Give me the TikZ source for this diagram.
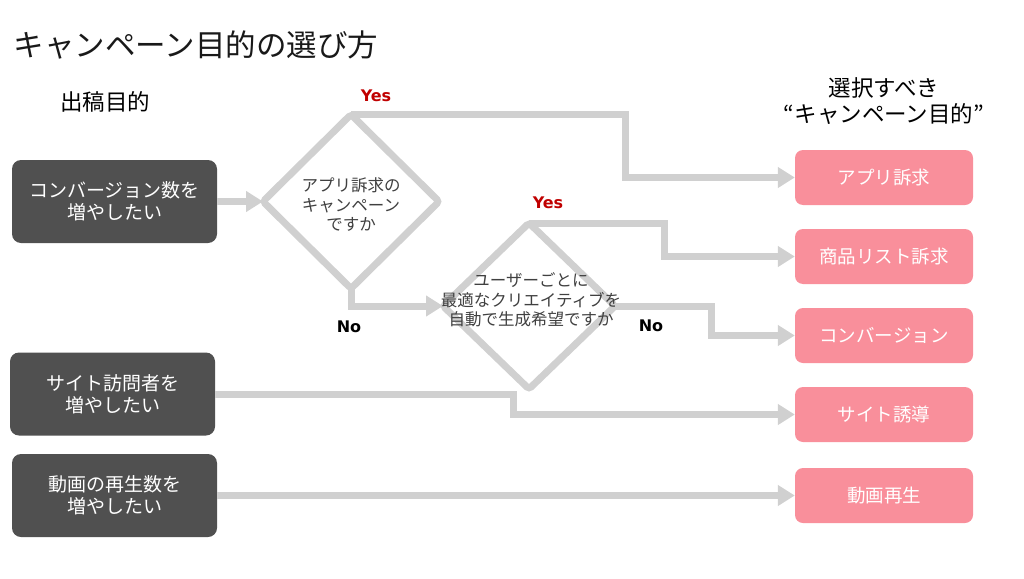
\documentclass[tikz,border=0pt]{standalone}
\usepackage{fontspec}
\setmainfont{Noto Sans CJK JP}
\newfontfamily\ynfont{DejaVu Sans}
\usetikzlibrary{shapes.geometric,arrows.meta}
\definecolor{lgray}{HTML}{D0D0D0}
\definecolor{darkbox}{HTML}{505050}
\definecolor{pinkbox}{HTML}{F98F9B}
\definecolor{yesred}{HTML}{C00000}
\definecolor{dtext}{HTML}{404040}
\tikzset{
  srcbox/.style={fill=darkbox, rounded corners=9pt, minimum width=205pt, minimum height=83pt,
    text=white, align=center, inner sep=0pt, font=\fontsize{19}{22}\selectfont},
  dstbox/.style={fill=pinkbox, rounded corners=8pt, minimum width=178pt, minimum height=55pt,
    text=white, align=center, inner sep=0pt, font=\fontsize{18.5}{22}\selectfont},
  decision/.style={diamond, draw=lgray, line width=7pt, fill=white, rounded corners=3pt,
    inner sep=0pt, outer sep=0pt},
  dtextstyle/.style={text=dtext, align=center, inner sep=0pt, font=\fontsize{16.5}{19.5}\selectfont},
  conn/.style={draw=lgray, line width=7pt, -{Triangle[length=17pt,width=20pt]}},
  yeslbl/.style={text=yesred, font=\ynfont\bfseries\fontsize{16}{18}\selectfont},
  nolbl/.style={text=black, font=\ynfont\bfseries\fontsize{16}{18}\selectfont},
  header/.style={text=black, align=center}
}
\begin{document}
\begin{tikzpicture}[x=1pt,y=-1pt]
\useasboundingbox (0,0) rectangle (1024,578);
% title
\node[anchor=west, text=black!90, font=\fontsize{30.5}{36}\selectfont] (title) at (10,45) {キャンペーン目的の選び方};
\node[header, font=\fontsize{22.5}{26}\selectfont] (lhead) at (105,102) {出稿目的};
\node[header, font=\fontsize{22.5}{25.5}\selectfont] (rhead) at (884,101) {選択すべき\\“キャンペーン目的”};
% source boxes
\node[srcbox] (s1) at (114.5,201.5) {コンバージョン数を\\増やしたい};
\node[srcbox] (s2) at (112.5,394) {サイト訪問者を\\増やしたい};
\node[srcbox] (s3) at (114.5,495.5) {動画の再生数を\\増やしたい};
% destination boxes
\node[dstbox] (p1) at (884,177.5) {アプリ訴求};
\node[dstbox] (p2) at (884,256.5) {商品リスト訴求};
\node[dstbox] (p3) at (884,335.5) {コンバージョン};
\node[dstbox] (p4) at (884,414.5) {サイト誘導};
\node[dstbox] (p5) at (884,495.5) {動画再生};
% decisions (outline only; text in separate nodes)
\node[decision, minimum width=176pt, minimum height=174pt] (d1) at (351,201.5) {};
\node[decision, minimum width=172pt, minimum height=166pt] (d2) at (529,306) {};
\node[dtextstyle] (t1) at (351,205) {アプリ訴求の\\キャンペーン\\ですか};
\node[dtextstyle] (t2) at (531,300) {ユーザーごとに\\最適なクリエイティブを\\自動で生成希望ですか};
% connectors
\draw[conn] (s1.east) -- (d1.west);
\draw[conn] (d1.north) -- ++(274,0) |- (p1.west);
\draw[conn] (d1.south) |- (d2.west);
\draw[conn] (d2.north) -- ++(135,0) |- (p2.west);
\draw[conn] (d2.east) -- ++(96,0) |- (p3.west);
\draw[conn] (s2.east) -- ++(298,0) |- (p4.west);
\draw[conn] (s3.east) -- (p5.west);
% labels
\node[yeslbl] (y1) at (376,96) {Yes};
\node[nolbl] (n1) at (349,327) {No};
\node[yeslbl] (y2) at (548,203) {Yes};
\node[nolbl] (n2) at (651,326) {No};
\end{tikzpicture}
\end{document}
